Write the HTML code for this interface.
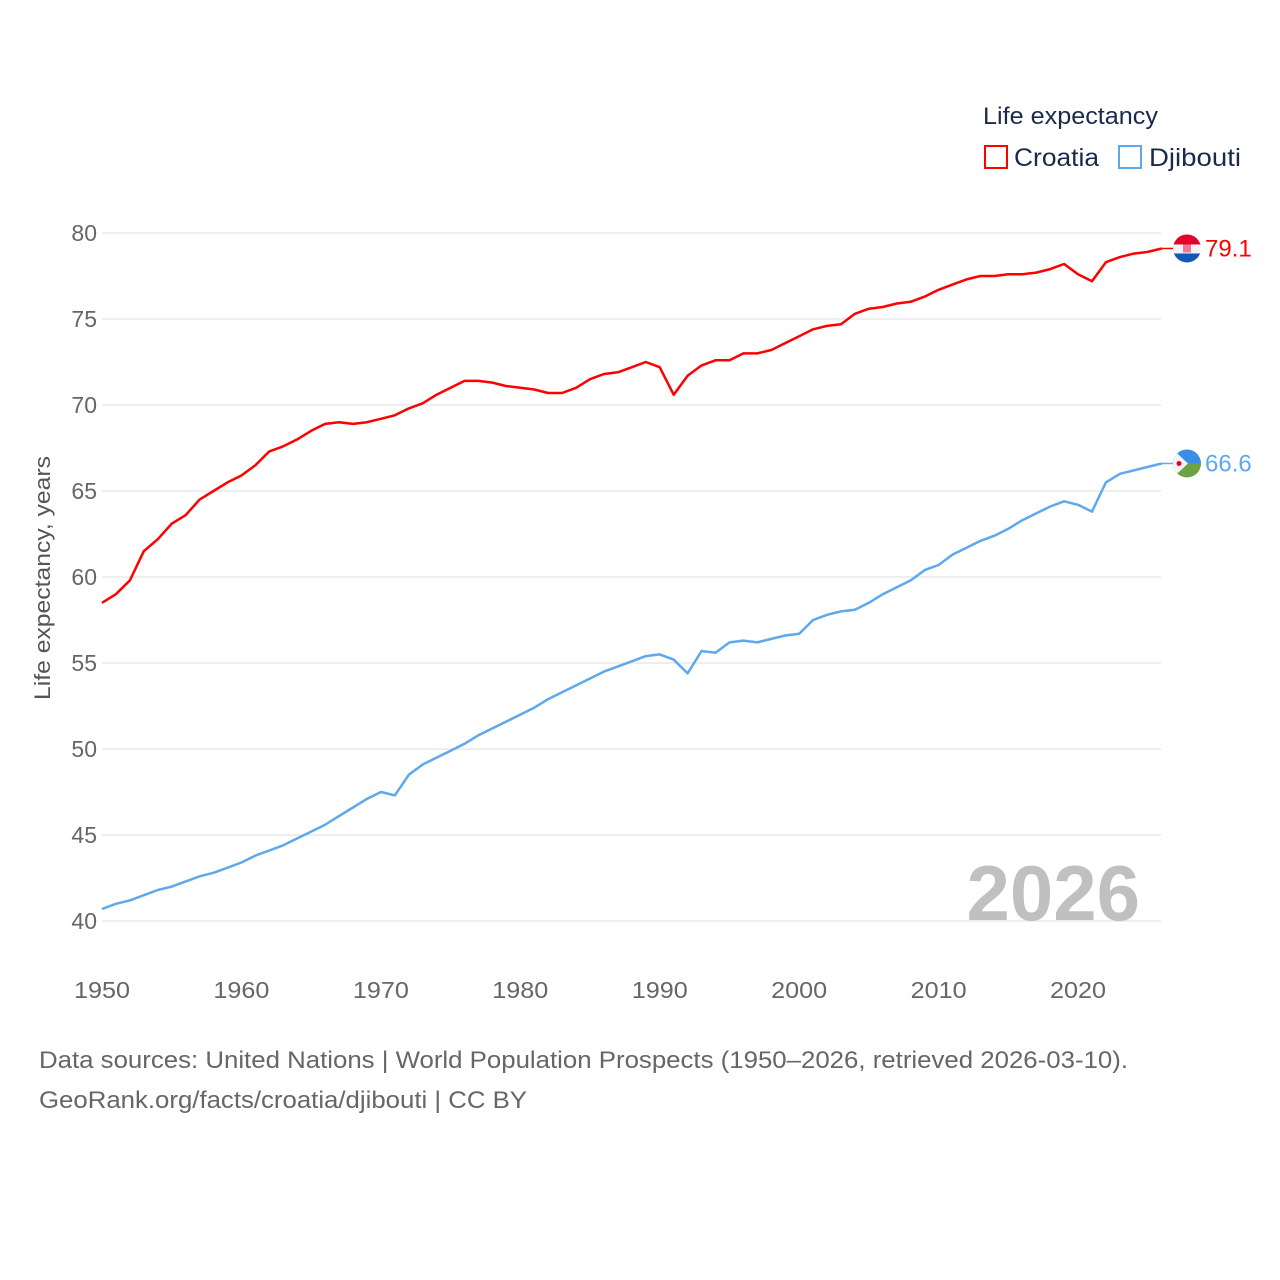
<!DOCTYPE html>
<html><head><meta charset="utf-8"><style>
body{margin:0;background:#fff;}
svg{display:block;font-family:"Liberation Sans",sans-serif;}
</style></head><body>
<svg id="chart" width="1280" height="1280" viewBox="0 0 1280 1280">
<g id="grid"></g>
<g id="yticks"></g>
<g id="xticks"></g>
<text x="50" y="578" transform="rotate(-90 50 578)" text-anchor="middle" font-size="22" textLength="244" lengthAdjust="spacingAndGlyphs" fill="#555">Life expectancy, years</text>
<text x="1140" y="920" text-anchor="end" font-size="78" font-weight="bold" fill="#c0c0c0">2026</text>
<g id="series"></g>
<g>
<text x="983" y="124" font-size="24" textLength="175" lengthAdjust="spacingAndGlyphs" fill="#1a2a4a">Life expectancy</text>
<g><rect x="985" y="146" width="22" height="22" fill="none" stroke="#ff0000" stroke-width="2"/><text x="1014" y="166" font-size="25" textLength="85" lengthAdjust="spacingAndGlyphs" fill="#1a2a4a">Croatia</text></g>
<g><rect x="1119" y="146" width="22" height="22" fill="none" stroke="#5ea8ee" stroke-width="2"/><text x="1149" y="166" font-size="25" textLength="92" lengthAdjust="spacingAndGlyphs" fill="#1a2a4a">Djibouti</text></g>
</g>
<text x="39" y="1068" font-size="24" textLength="1089" lengthAdjust="spacingAndGlyphs" fill="#666">Data sources: United Nations | World Population Prospects (1950–2026, retrieved 2026-03-10).</text>
<text x="39" y="1108" font-size="24" textLength="488" lengthAdjust="spacingAndGlyphs" fill="#666">GeoRank.org/facts/croatia/djibouti | CC BY</text>
</svg>
<script>
const years = [];
for (let y = 1950; y <= 2026; y++) years.push(y);
const croatia = [58.5,59.0,59.8,61.5,62.2,63.1,63.6,64.5,65.0,65.5,65.9,66.5,67.3,67.6,68.0,68.5,68.9,69.0,68.9,69.0,69.2,69.4,69.8,70.1,70.6,71.0,71.4,71.4,71.3,71.1,71.0,70.9,70.7,70.7,71.0,71.5,71.8,71.9,72.2,72.5,72.2,70.6,71.7,72.3,72.6,72.6,73.0,73.0,73.2,73.6,74.0,74.4,74.6,74.7,75.3,75.6,75.7,75.9,76.0,76.3,76.7,77.0,77.3,77.5,77.5,77.6,77.6,77.7,77.9,78.2,77.6,77.2,78.3,78.6,78.8,78.9,79.1];
const djibouti = [40.7,41.0,41.2,41.5,41.8,42.0,42.3,42.6,42.8,43.1,43.4,43.8,44.1,44.4,44.8,45.2,45.6,46.1,46.6,47.1,47.5,47.3,48.5,49.1,49.5,49.9,50.3,50.8,51.2,51.6,52.0,52.4,52.9,53.3,53.7,54.1,54.5,54.8,55.1,55.4,55.5,55.2,54.4,55.7,55.6,56.2,56.3,56.2,56.4,56.6,56.7,57.5,57.8,58.0,58.1,58.5,59.0,59.4,59.8,60.4,60.7,61.3,61.7,62.1,62.4,62.8,63.3,63.7,64.1,64.4,64.2,63.8,65.5,66.0,66.2,66.4,66.6];
const yTicks = [40,45,50,55,60,65,70,75,80];
const xTicks = [1950,1960,1970,1980,1990,2000,2010,2020];
const X = y => 102 + (y - 1950) * (1161.7 - 102) / 76;
const Y = v => 921 - (v - 40) * (921 - 233) / 40;
const NS = "http://www.w3.org/2000/svg";
function mk(tag, attrs, parent){const e=document.createElementNS(NS,tag);for(const k in attrs)e.setAttribute(k,attrs[k]);parent.appendChild(e);return e;}
const grid=document.getElementById('grid'), yt=document.getElementById('yticks'), xt=document.getElementById('xticks'), ser=document.getElementById('series');
yTicks.forEach(v=>{
  const l=mk('line',{x1:102,x2:1161,y1:Y(v),y2:Y(v),stroke:'#e8e8e8','stroke-width':1.5},grid);
  
  
  const t=mk('text',{x:97,y:Y(v)+8,'text-anchor':'end','font-size':23,fill:'#666'},yt);
  t.textContent=v;
  
  
});
xTicks.forEach(v=>{
  const t=mk('text',{x:X(v),y:998,'text-anchor':'middle','font-size':23,textLength:56,lengthAdjust:'spacingAndGlyphs',fill:'#666'},xt);
  t.textContent=v;
  
  
});
function line(data,color,name){
  const d=data.map((v,i)=>(i?'L':'M')+X(years[i]).toFixed(1)+' '+Y(v).toFixed(1)).join(' ');
  const p=mk('path',{d:d,fill:'none',stroke:color,'stroke-width':2.5,'stroke-linejoin':'round'},ser);
  
  
  const last=data[data.length-1], ly=Y(last);
  mk('line',{x1:X(2026),x2:1175,y1:ly,y2:ly,stroke:color,'stroke-width':1.5},ser);
  const t=mk('text',{x:1205,y:ly+8,'font-size':24,fill:color},ser);
  t.textContent=last.toFixed(1);
  
  
  return ly;
}
const cy=line(croatia,'#ff0000','croatia');
const dy=line(djibouti,'#5ea8ee','djibouti');
const cx=1187, r=14;
let g=mk('g',{},ser);


const cp=mk('clipPath',{id:'cc'},g); mk('circle',{cx:cx,cy:cy,r:r},cp);
const cg=mk('g',{'clip-path':'url(#cc)'},g);
mk('rect',{x:cx-r,y:cy-r,width:2*r,height:10,fill:'#e4002b'},cg);
mk('rect',{x:cx-r,y:cy-r+10,width:2*r,height:9,fill:'#f4f4f4'},cg);
mk('rect',{x:cx-r,y:cy-r+19,width:2*r,height:10,fill:'#1357b8'},cg);
mk('rect',{x:cx-4,y:cy-7,width:8,height:11,fill:'#e4002b',opacity:0.5},cg);
g=mk('g',{},ser);


const dp=mk('clipPath',{id:'dc'},g); mk('circle',{cx:cx,cy:dy,r:r},dp);
const dg=mk('g',{'clip-path':'url(#dc)'},g);
mk('rect',{x:cx-r,y:dy-r,width:2*r,height:r,fill:'#3a8ee8'},dg);
mk('rect',{x:cx-r,y:dy,width:2*r,height:r,fill:'#6ca244'},dg);
mk('polygon',{points:`${cx-r},${dy-r} ${cx+1},${dy} ${cx-r},${dy+r}`,fill:'#f4f4f4'},dg);
mk('circle',{cx:cx-8,cy:dy,r:2.5,fill:'#e4002b'},dg);
</script>
</body></html>
